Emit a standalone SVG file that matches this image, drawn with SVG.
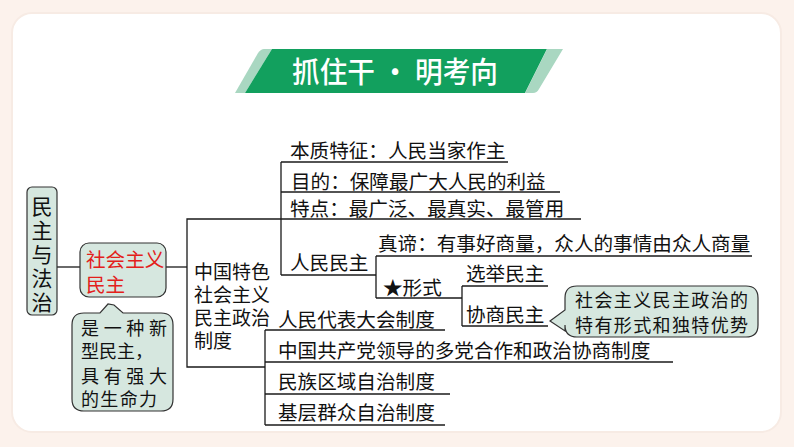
<svg xmlns="http://www.w3.org/2000/svg" width="794" height="447" viewBox="0 0 794 447">
<style>
.t{font-family:"Noto Sans CJK SC","Noto Sans",sans-serif;font-size:19.6px;fill:#111}
.s{font-family:"Liberation Sans","Noto Sans CJK SC",sans-serif;font-size:19px;fill:#111}
.r{font-family:"Liberation Sans","Noto Sans CJK SC",sans-serif;font-size:19.6px;fill:#e3201b}
.k{font-family:"Liberation Sans","Noto Sans CJK SC",sans-serif;font-size:18px;fill:#111}
.ln{fill:none;stroke:#1a1a1a;stroke-width:1.3}
.bx{fill:#d6e7df;stroke:#333;stroke-width:1.2}
</style>
<rect x="0" y="0" width="794" height="447" fill="#fcf2ec"/>
<rect x="12" y="13" width="769" height="419" rx="20" fill="#ffffff" stroke="#f7ebe4" stroke-width="2"/>
<g id="banner">
<path d="M235,93 L245,93 L272,49 L264,49 Q261,49 258,53 Z" fill="#a9d7c1"/>
<path d="M245,93 L272,49 L547,49 L525,93 Z" fill="#12a05e"/>
<path d="M547,49 L563,49 L539,89 Q537,93 533,93 L525,93 Z" fill="#a9d7c1"/>
<text x="292" y="83" textLength="206" lengthAdjust="spacingAndGlyphs" font-family="'Noto Sans CJK SC',sans-serif" font-size="29" font-weight="500" fill="#ffffff">抓住干 · 明考向</text>
</g>
<g id="connectors">
<path class="ln" d="M57,267 H80"/>
<path class="ln" d="M166,267 H187"/>
<path class="ln" d="M281,219 H187 V367 H265"/>
<path class="ln" d="M281,162 V275"/>
<path class="ln" d="M281,162 H508"/>
<path class="ln" d="M281,192 H560"/>
<path class="ln" d="M281,219 H581"/>
<path class="ln" d="M281,275 H376"/>
<path class="ln" d="M376,256 V298"/>
<path class="ln" d="M376,256 H752"/>
<path class="ln" d="M376,298 H462"/>
<path class="ln" d="M462,286 V326"/>
<path class="ln" d="M462,286 H548"/>
<path class="ln" d="M462,326 H548"/>
<path class="ln" d="M265,330 V425"/>
<path class="ln" d="M265,330 H445"/>
<path class="ln" d="M265,362 H673"/>
<path class="ln" d="M265,394 H450"/>
<path class="ln" d="M265,425 H445"/>
</g>
<g id="root">
<rect class="bx" x="27" y="187" width="30" height="128" rx="5"/>
<text x="42" y="196" style="writing-mode:vertical-rl;text-orientation:upright;letter-spacing:2.8px;font-family:'Noto Sans CJK SC',sans-serif;font-size:21px;fill:#111">民主与法治</text>
</g>
<g id="socialist-democracy">
<rect class="bx" x="80" y="243" width="86" height="54" rx="9"/>
<text class="r"><tspan x="86" y="267">社会主义</tspan><tspan x="86" y="292">民主</tspan></text>
</g>
<g id="note-new-democracy">
<path class="bx" d="M84,313 L100,313 L108,304 L114,305 L123,313 L161,313 Q173,313 173,325 L173,399 Q173,411 161,411 L84,411 Q72,411 72,399 L72,325 Q72,313 84,313 Z"/>
<text class="k" x="81" y="335" textLength="86" lengthAdjust="spacing">是一种新</text>
<text class="k" x="81" y="358">型民主，</text>
<text class="k" x="81" y="383" textLength="86" lengthAdjust="spacing">具有强大</text>
<text class="k" x="81" y="406" textLength="76" lengthAdjust="spacing">的生命力</text>
</g>
<g id="system">
<text class="s"><tspan x="194" y="279">中国特色</tspan><tspan x="194" y="302">社会主义</tspan><tspan x="194" y="325">民主政治</tspan><tspan x="194" y="348">制度</tspan></text>
</g>
<g id="essence"><text class="t" x="290" y="158">本质特征：人民当家作主</text></g>
<g id="purpose"><text class="t" x="291" y="189">目的：保障最广大人民的利益</text></g>
<g id="features"><text class="t" x="290" y="216">特点：最广泛、最真实、最管用</text></g>
<g id="people-democracy"><text class="t" x="290" y="270">人民民主</text></g>
<g id="truth"><text class="t" x="378" y="251">真谛：有事好商量，众人的事情由众人商量</text></g>
<g id="form"><text class="t" x="383" y="295">★形式</text></g>
<g id="election"><text class="t" x="466" y="281">选举民主</text></g>
<g id="consultation"><text class="t" x="466" y="322">协商民主</text></g>
<g id="note-consultation">
<path class="bx" d="M577,286 L746,286 Q758,286 758,298 L758,325 Q758,337 746,337 L577,337 Q565,337 565,325 L565,331 L550,321 L565,310 L565,298 Q565,286 577,286 Z"/>
<text class="k" x="575" y="307" textLength="173" lengthAdjust="spacing">社会主义民主政治的</text>
<text class="k" x="575" y="332" textLength="173" lengthAdjust="spacing">特有形式和独特优势</text>
</g>
<g id="npc"><text class="t" x="278" y="327">人民代表大会制度</text></g>
<g id="cpc"><text class="t" x="278" y="358">中国共产党领导的多党合作和政治协商制度</text></g>
<g id="ethnic"><text class="t" x="278" y="389">民族区域自治制度</text></g>
<g id="grassroots"><text class="t" x="278" y="420">基层群众自治制度</text></g>
</svg>
